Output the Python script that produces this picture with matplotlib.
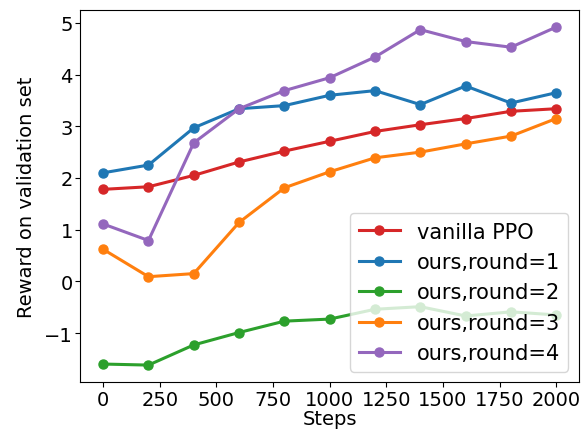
import matplotlib
matplotlib.use("Agg")
import matplotlib.pyplot as plt

steps = [0, 200, 400, 600, 800, 1000, 1200, 1400, 1600, 1800, 2000]
vanilla_ppo = [1.78, 1.83, 2.05, 2.31, 2.52, 2.71, 2.90, 3.03, 3.15, 3.29, 3.34]
round1 = [2.10, 2.25, 2.97, 3.34, 3.40, 3.60, 3.69, 3.42, 3.78, 3.45, 3.65]
round2 = [-1.60, -1.62, -1.23, -0.99, -0.77, -0.73, -0.54, -0.49, -0.67, -0.59, -0.65]
round3 = [0.62, 0.09, 0.15, 1.14, 1.81, 2.12, 2.39, 2.50, 2.66, 2.81, 3.15]
round4 = [1.11, 0.79, 2.68, 3.34, 3.69, 3.94, 4.34, 4.87, 4.64, 4.53, 4.92]

series = [
    ("vanilla PPO", vanilla_ppo, "#d62728"),
    ("ours,round=1", round1, "#1f77b4"),
    ("ours,round=2", round2, "#2ca02c"),
    ("ours,round=3", round3, "#ff7f0e"),
    ("ours,round=4", round4, "#9467bd"),
]

plt.rcParams["font.size"] = 14
fig = plt.figure(figsize=(5.85, 4.39), dpi=100)
ax = fig.add_axes([0.1376, 0.1276, 0.852, 0.847])
for label, vals, color in series:
    ax.plot(steps, vals, marker="o", color=color, lw=2.2, markersize=6.5, label=label)

ax.set_xticks([0, 250, 500, 750, 1000, 1250, 1500, 1750, 2000])
ax.tick_params(labelsize=14, pad=2)
ax.set_xlabel("Steps", labelpad=0)
ax.set_ylabel("Reward on validation set", labelpad=6)
ax.legend(loc="lower right", fontsize=15)
fig.savefig("out.png", dpi=100)
